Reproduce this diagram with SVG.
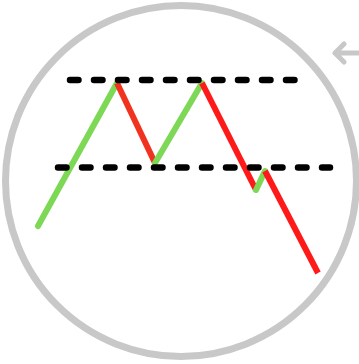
<svg xmlns="http://www.w3.org/2000/svg" width="359" height="364" viewBox="0 0 359 364">
<style>
.ring{fill:none;stroke:#c8c8c8;stroke-width:7}
.up{fill:none;stroke:#7dd856;stroke-width:6;stroke-linecap:round}
.down{fill:none;stroke:#ff1a1a;stroke-width:6}
.dash{fill:none;stroke:#000;stroke-width:6.5;stroke-linecap:round;stroke-dasharray:8.5 15.5}
</style>
<rect width="359" height="364" fill="#fff"/>
<circle class="ring" cx="181" cy="181" r="175.5"/>
<path d="M359 53 H335 M344 44 L335 53 L344 62" fill="none" stroke="#c8c8c8" stroke-width="5" stroke-linecap="round" stroke-linejoin="round"/>
<g id="chart">
<path class="up" d="M38 226 L117 83"/>
<path class="down" d="M117 83 L155 163" style="stroke:#f0321e"/>
<path class="up" d="M155 163 L202 83"/>
<path class="down" d="M202 83 L256 190"/>
<path class="up" d="M256 190 L265 171"/>
<path class="down" d="M265 171 L318 273"/>
</g>
<g id="levels">
<path class="dash" d="M70 80 H298"/>
<path class="dash" d="M58 167.5 H330"/>
</g>
</svg>
